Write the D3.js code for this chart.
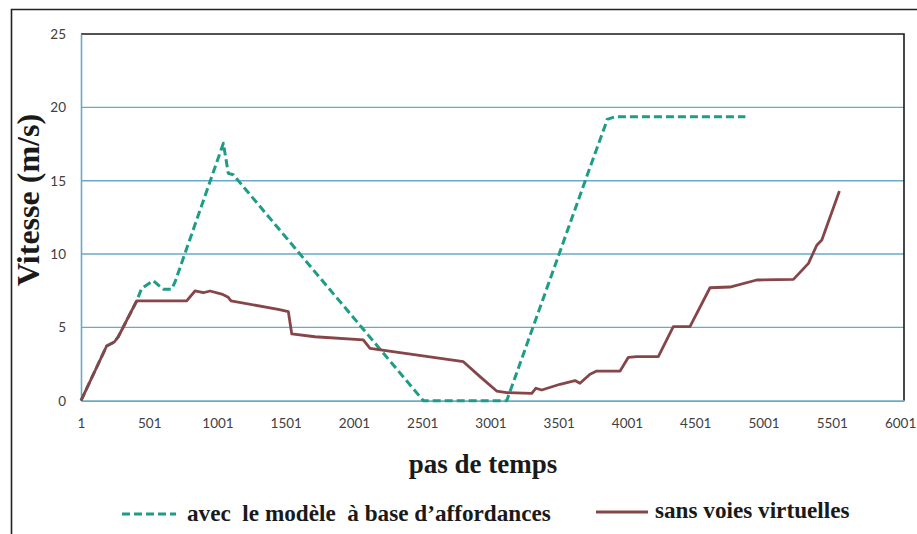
<!DOCTYPE html>
<html>
<head>
<meta charset="utf-8">
<script src="https://cdn.jsdelivr.net/npm/d3@7/dist/d3.min.js"></script>
<style>
  html, body { margin: 0; padding: 0; background: #fff; }
  svg { display: block; }
  .tick text { font-family: Lato, "Open Sans", sans-serif; font-size: 13.5px; fill: #404040; }
  .serif { font-family: "Liberation Serif", "Tinos", "Times New Roman", "DejaVu Serif", "Noto Serif", serif; font-weight: bold; fill: #1a1a1a; }
</style>
</head>
<body>
<svg id="chart" width="917" height="534"></svg>
<script>
// Speed (m/s) against simulation time step, two runs.
const xTicks = [1, 501, 1001, 1501, 2001, 2501, 3001, 3501, 4001, 4501, 5001, 5501, 6001];
const yTicks = [0, 5, 10, 15, 20, 25];

// Run with the affordance-based model
const affordStep  = [1, 189, 245, 274, 409, 445, 531, 604, 665, 690, 1044, 1080, 1117, 2509, 3120, 3695, 3846, 3855, 3915, 4868];
const affordSpeed = [0, 3.73, 4.0, 4.36, 6.8, 7.66, 8.18, 7.6, 7.6, 8.1, 17.55, 15.5, 15.4, 0, 0, 15.0, 18.9, 19.18, 19.36, 19.36];

// Run without virtual lanes
const laneStep  = [1, 189, 245, 274, 409, 775, 836, 897, 946, 1032, 1080, 1100, 1446, 1520, 1545, 1715, 2069, 2118, 2802, 2924, 3046, 3120, 3303, 3334, 3376, 3510, 3620, 3656, 3730, 3779, 3950, 4011, 4072, 4230, 4340, 4462, 4609, 4755, 4951, 5220, 5330, 5391, 5428, 5557];
const laneSpeed = [0, 3.73, 4.0, 4.36, 6.8, 6.8, 7.48, 7.36, 7.48, 7.27, 7.05, 6.8, 6.23, 6.07, 4.55, 4.36, 4.14, 3.57, 2.66, 1.64, 0.66, 0.55, 0.5, 0.85, 0.73, 1.12, 1.37, 1.19, 1.8, 2.02, 2.02, 2.96, 3.0, 3.0, 5.05, 5.05, 7.7, 7.75, 8.23, 8.27, 9.36, 10.6, 10.95, 14.3];

const seriesNames = ["avec  le modèle  à base d\u2019affordances", "sans voies virtuelles"];
const axisTitles = { x: "pas de temps", y: "Vitesse (m/s)" };

const green = "#1e9c86";
const brown = "#864649";
const gridBlue = "#6aaac6";

const svg = d3.select("#chart");
const plotL = 81, plotR = 904, plotT = 34, plotB = 400.7;

const x = d3.scaleLinear().domain([1, 6030]).range([plotL, plotR]);
const y = d3.scaleLinear().domain([0, 25]).range([plotB, plotT]);

// outer frame (left and top edges)
svg.append("path")
  .attr("d", `M11.5,534 L11.5,9.5 L917,9.5`)
  .attr("fill", "none").attr("stroke", "#222").attr("stroke-width", 1.6);

// horizontal gridlines
svg.append("g").selectAll("line")
  .data(yTicks.filter(v => v > 0 && v < 25))
  .join("line")
  .attr("x1", plotL).attr("x2", plotR)
  .attr("y1", d => y(d)).attr("y2", d => y(d))
  .attr("stroke", gridBlue).attr("stroke-width", 1.4);

// plot area: dark top and right edges
svg.append("path")
  .attr("d", `M${plotL},${plotT} L${plotR},${plotT} L${plotR},${plotB}`)
  .attr("fill", "none").attr("stroke", "#1a1a1a").attr("stroke-width", 1.6);

// y axis
const yAxis = svg.append("g")
  .attr("transform", `translate(${plotL},0)`)
  .call(d3.axisLeft(y).tickValues(yTicks).tickSize(0).tickPadding(15));
yAxis.select(".domain").attr("stroke", gridBlue).attr("stroke-width", 1.6);

// x axis
const xAxis = svg.append("g")
  .attr("transform", `translate(0,${plotB})`)
  .call(d3.axisBottom(x).tickValues(xTicks).tickFormat(d3.format("d")).tickSize(0).tickPadding(18));
xAxis.select(".domain").attr("stroke", gridBlue).attr("stroke-width", 1.8);

// series lines
const line = d3.line().x(d => x(d[0])).y(d => y(d[1]));
const affordData = affordStep.map((s, i) => [s, affordSpeed[i]]);
const laneData = laneStep.map((s, i) => [s, laneSpeed[i]]);

svg.append("path").datum(affordData)
  .attr("d", line)
  .attr("fill", "none").attr("stroke", green).attr("stroke-width", 3)
  .attr("stroke-dasharray", "8,4").attr("stroke-linejoin", "round");

svg.append("path").datum(laneData)
  .attr("d", line)
  .attr("fill", "none").attr("stroke", brown).attr("stroke-width", 2.8)
  .attr("stroke-linejoin", "round");

// axis titles
svg.append("text").attr("class", "serif")
  .attr("x", 483).attr("y", 473)
  .attr("text-anchor", "middle")
  .style("font-size", "27px")
  .text(axisTitles.x);

svg.append("text").attr("class", "serif")
  .attr("transform", "translate(39,200) rotate(-90)")
  .attr("text-anchor", "middle")
  .style("font-size", "32px")
  .text(axisTitles.y);

// legend
const legend = svg.append("g");
legend.append("line")
  .attr("x1", 122).attr("x2", 176).attr("y1", 514).attr("y2", 514)
  .attr("stroke", green).attr("stroke-width", 3).attr("stroke-dasharray", "8,4");
legend.append("text").attr("class", "serif")
  .attr("x", 187).attr("y", 521)
  .style("font-size", "23.2px")
  .style("white-space", "pre")
  .text(seriesNames[0]);
legend.append("line")
  .attr("x1", 596).attr("x2", 648).attr("y1", 512).attr("y2", 512)
  .attr("stroke", brown).attr("stroke-width", 3);
legend.append("text").attr("class", "serif")
  .attr("x", 655).attr("y", 518)
  .style("font-size", "23.2px")
  .text(seriesNames[1]);
</script>
</body>
</html>
